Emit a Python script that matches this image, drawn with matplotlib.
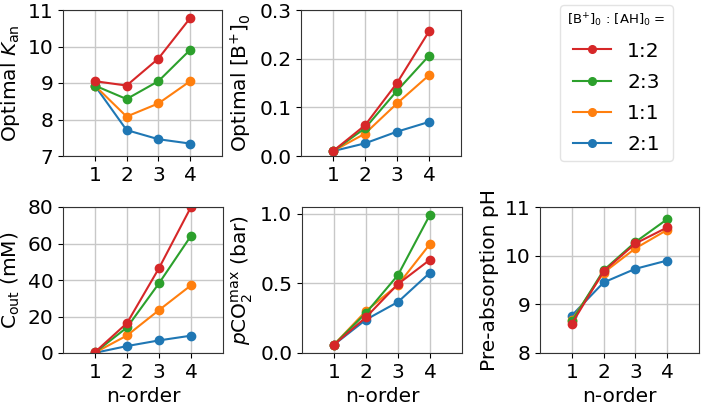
import matplotlib
matplotlib.use("Agg")
import matplotlib.pyplot as plt

n_order = [1, 2, 3, 4]
ratios = ["1:2", "2:3", "1:1", "2:1"]
colors = ["#d62728", "#2ca02c", "#ff7f0e", "#1f77b4"]

k_an = {
    "1:2": [9.05, 8.93, 9.67, 10.78],
    "2:3": [8.93, 8.56, 9.05, 9.91],
    "1:1": [8.93, 8.08, 8.44, 9.05],
    "2:1": [8.93, 7.71, 7.46, 7.34],
}
b0 = {
    "1:2": [0.010, 0.063, 0.150, 0.256],
    "2:3": [0.010, 0.057, 0.134, 0.206],
    "1:1": [0.010, 0.046, 0.108, 0.166],
    "2:1": [0.010, 0.026, 0.050, 0.070],
}
c_out = {
    "1:2": [0.5, 16.4, 46.5, 80.0],
    "2:3": [0.3, 14.0, 38.2, 64.2],
    "1:1": [0.2, 9.6, 23.5, 37.1],
    "2:1": [0.1, 3.8, 6.9, 9.5],
}
pco2 = {
    "1:2": [0.06, 0.257, 0.496, 0.671],
    "2:3": [0.06, 0.288, 0.561, 0.995],
    "1:1": [0.06, 0.302, 0.490, 0.784],
    "2:1": [0.06, 0.240, 0.367, 0.578],
}
ph = {
    "1:2": [8.60, 9.68, 10.25, 10.58],
    "2:3": [8.65, 9.70, 10.28, 10.75],
    "1:1": [8.68, 9.65, 10.15, 10.53],
    "2:1": [8.77, 9.45, 9.73, 9.90],
}

fig = plt.figure(figsize=(7.02, 4.07), dpi=100)
W, H = 702, 407

def add_ax(l, t, r, b):
    return fig.add_axes([l / W, 1 - b / H, (r - l) / W, (b - t) / H])

ax1 = add_ax(63, 10, 222, 156)
ax2 = add_ax(301, 10, 461, 156)
ax4 = add_ax(63, 207, 223, 353)
ax5 = add_ax(302, 207, 462, 353)
ax6 = add_ax(540, 207, 699, 353)

panels = [
    (ax1, k_an, (7, 11), [7, 8, 9, 10, 11], "Optimal $K_{\\mathrm{an}}$", None),
    (ax2, b0, (0, 0.3), [0.0, 0.1, 0.2, 0.3], "Optimal [B$^{+}$]$_0$", None),
    (ax4, c_out, (0, 80), [0, 20, 40, 60, 80], "$\\mathrm{C}_{\\mathrm{out}}$ (mM)", "n-order"),
    (ax5, pco2, (0, 1.05), [0.0, 0.5, 1.0], "$p$CO$_2^{\\mathrm{max}}$ (bar)", "n-order"),
    (ax6, ph, (8, 11), [8, 9, 10, 11], "Pre-absorption pH", "n-order"),
]

fs = 14.5
for ax, data, ylim, yt, ylab, xlab in panels:
    ax.set_axisbelow(True)
    ax.grid(True, color="#c8c8c8", linewidth=1.0)
    for r, c in zip(ratios[::-1], colors[::-1]):
        ax.plot(n_order, data[r], color=c, marker="o", markersize=6, linewidth=1.5)
    ax.set_xlim(0, 5)
    ax.set_ylim(*ylim)
    ax.set_xticks(n_order)
    ax.set_yticks(yt)
    if ax is ax2 or ax is ax5:
        ax.set_yticklabels([f"{v:.1f}" for v in yt])
    ax.tick_params(labelsize=fs)
    ax.set_ylabel(ylab, fontsize=fs)
    if xlab:
        ax.set_xlabel(xlab, fontsize=fs)
    for s in ax.spines.values():
        s.set_color("#333333")

handles = [plt.Line2D([], [], color=c, marker="o", markersize=5.5, linewidth=1.5) for c in colors]
leg = fig.legend(handles, ratios, loc="upper left",
                 bbox_to_anchor=(560 / W, 1 - 5 / H),
                 title="[B$^{+}$]$_0$ : [AH]$_0$ =", title_fontsize=9.5, fontsize=14.5,
                 frameon=True, handlelength=1.9, labelspacing=0.6, borderpad=0.35,
                 handletextpad=0.8, borderaxespad=0.0)
leg.get_frame().set_edgecolor("#dddddd")

fig.savefig("out.png", dpi=100)
